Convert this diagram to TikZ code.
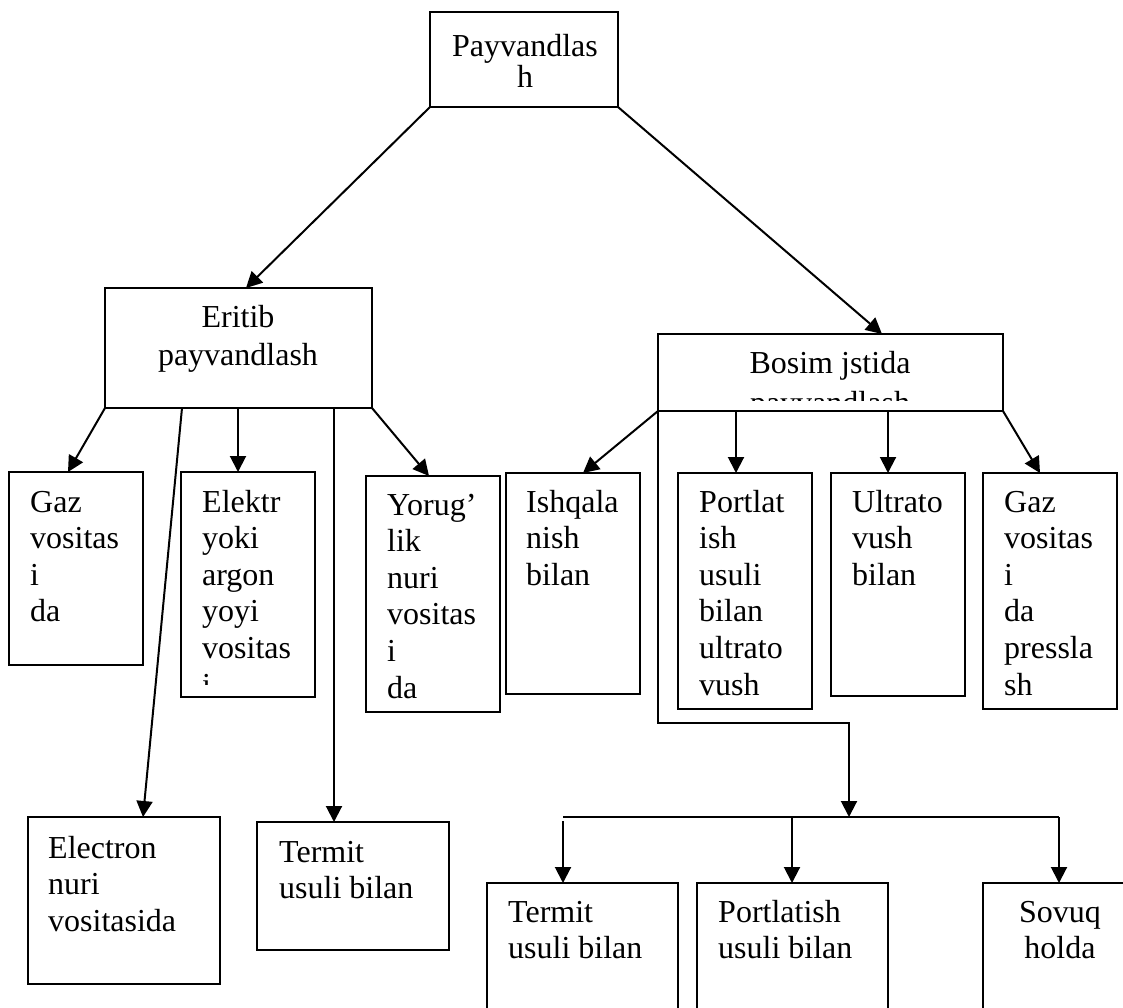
\documentclass[tikz,border=0pt]{standalone}
\usepackage{fontspec}
\setmainfont{Liberation Serif}
\usetikzlibrary{arrows.meta}
% stacked lines: first baseline is the node's base
\newcommand\colL[1]{\vtop{\baselineskip=36.6pt\lineskiplimit=-100pt\lineskip=0pt\halign{##\hfil\cr#1\crcr}}}
\newcommand\colC[2]{\vtop{\baselineskip=#1\lineskiplimit=-100pt\lineskip=0pt\halign{\hfil##\hfil\cr#2\crcr}}}
\tikzset{
  box/.style={draw, line width=2pt, inner sep=0pt, outer sep=0pt, anchor=north west},
  txt/.style={inner sep=0pt, anchor=base west, font=\fontsize{32pt}{36.6pt}\selectfont},
  txtc/.style={inner sep=0pt, anchor=base, font=\fontsize{32pt}{36.6pt}\selectfont},
  link/.style={line width=2pt},
  arr/.style={link, -{Triangle[length=16pt,width=16pt]}},
}
\begin{document}
\begin{tikzpicture}[x=1pt,y=-1pt]
\useasboundingbox (0,0) rectangle (1123,1007);
\clip (0,0) rectangle (1123,1007);
\fill[white] (0,0) rectangle (1123,1007);

% boxes
\node[box, minimum width=188pt, minimum height=95pt]  (top)   at (430,12)  {};
\node[box, minimum width=267pt, minimum height=120pt] (erit)  at (105,288) {};
\node[box, minimum width=345pt, minimum height=77pt]  (bosim) at (658,334) {};
\node[box, minimum width=134pt, minimum height=193pt] (gazL)  at (9,472)   {};
\node[box, minimum width=134pt, minimum height=225pt] (elek)  at (181,472) {};
\node[box, minimum width=134pt, minimum height=236pt] (yor)   at (366,476) {};
\node[box, minimum width=134pt, minimum height=221pt] (ish)   at (506,473) {};
\node[box, minimum width=134pt, minimum height=236pt] (port)  at (678,473) {};
\node[box, minimum width=134pt, minimum height=223pt] (ult)   at (831,473) {};
\node[box, minimum width=134pt, minimum height=236pt] (gazR)  at (983,473) {};
\node[box, minimum width=192pt, minimum height=167pt] (elec)  at (28,817)  {};
\node[box, minimum width=192pt, minimum height=128pt] (termL) at (257,822) {};
\node[box, minimum width=191pt, minimum height=200pt] (termB) at (487,883) {};
\node[box, minimum width=191pt, minimum height=200pt] (portB) at (697,883) {};
\node[box, minimum width=200pt, minimum height=200pt] (sov)   at (983,883) {};

% labels
\node[txtc] (tTop)  at (525,56)  {\colC{31pt}{Payvandlas\cr h}};
\node[txtc] (tErit) at (238,327) {\colC{38pt}{Eritib\cr payvandlash}};
\begin{scope}
  \clip (658,334) rectangle (1003,400);
  \node[txtc] (tBosim) at (830,373) {\colC{40pt}{Bosim jstida\cr payvandlash}};
\end{scope}
\node[txt] (tGazL) at (30,512) {\colL{Gaz\cr vositas\cr i\cr da}};
\begin{scope}
  \clip (181,472) rectangle (315,684);
  \node[txt] (tElek) at (202,512) {\colL{Elektr\cr yoki\cr argon\cr yoyi\cr vositas\cr i\cr da}};
\end{scope}
\node[txt] (tYor)   at (387,515)  {\colL{Yorug’\cr lik\cr nuri\cr vositas\cr i\cr da}};
\node[txt] (tIsh)   at (526,512)  {\colL{Ishqala\cr nish\cr bilan}};
\node[txt] (tPort)  at (699,512)  {\colL{Portlat\cr ish\cr usuli\cr bilan\cr ultrato\cr vush}};
\node[txt] (tUlt)   at (852,512)  {\colL{Ultrato\cr vush\cr bilan}};
\node[txt] (tGazR)  at (1004,512) {\colL{Gaz\cr vositas\cr i\cr da\cr pressla\cr sh}};
\node[txt] (tElec)  at (48,858)   {\colL{Electron\cr nuri\cr vositasida}};
\node[txt] (tTermL) at (279,862)  {\colL{Termit\cr usuli bilan}};
\node[txt] (tTermB) at (508,922)  {\colL{Termit\cr usuli bilan}};
\node[txt] (tPortB) at (718,922)  {\colL{Portlatish\cr usuli bilan}};
\node[txtc] (tSov)  at (1060,922) {\colC{36.6pt}{Sovuq\cr holda}};

% connectors from the top box
\draw[arr] (top.south west) -- ([xshift=141pt]erit.north west);
\draw[arr] (top.south east) -- ([xshift=224pt]bosim.north west);

% connectors from the melting box
\path ([xshift=77pt]erit.south west)  coordinate (eElec)
      ([xshift=133pt]erit.south west) coordinate (eElek)
      ([xshift=229pt]erit.south west) coordinate (eTerm);
\draw[arr] (erit.south west) -- ([xshift=59pt]gazL.north west);
\draw[arr] (eElec) -- ([xshift=115pt]elec.north west);
\draw[arr] (eElek) -- (eElek |- elek.north);
\draw[arr] (eTerm) -- (eTerm |- termL.north);
\draw[arr] (erit.south east) -- ([xshift=63pt]yor.north west);

% connectors from the pressure box
\path ([xshift=78pt]bosim.south west)  coordinate (bPort)
      ([xshift=230pt]bosim.south west) coordinate (bUlt);
\draw[arr] (bosim.south west) -- ([xshift=77pt]ish.north west);
\draw[arr] (bPort) -- (bPort |- port.north);
\draw[arr] (bUlt) -- (bUlt |- ult.north);
\draw[arr] (bosim.south east) -- ([xshift=57pt]gazR.north west);

% branch to the lower row
\coordinate (jog) at (849,723);
\coordinate (hub) at (849,817);
\draw[arr] (bosim.south west) |- (jog) -- (hub);
\path ([xshift=76pt]termB.north west) coordinate (tbTop)
      ([xshift=95pt]portB.north west) coordinate (pbTop)
      ([xshift=76pt]sov.north west)   coordinate (sTop);
\coordinate (tbBar) at (tbTop |- hub);
\coordinate (pbBar) at (pbTop |- hub);
\coordinate (sBar)  at (sTop |- hub);
\draw[link] (tbBar) -- (sBar);
\draw[arr] ([yshift=-4pt]tbBar) -- (tbTop);
\draw[arr] (pbBar) -- (pbTop);
\draw[arr] (sBar) -- (sTop);
\end{tikzpicture}
\end{document}
